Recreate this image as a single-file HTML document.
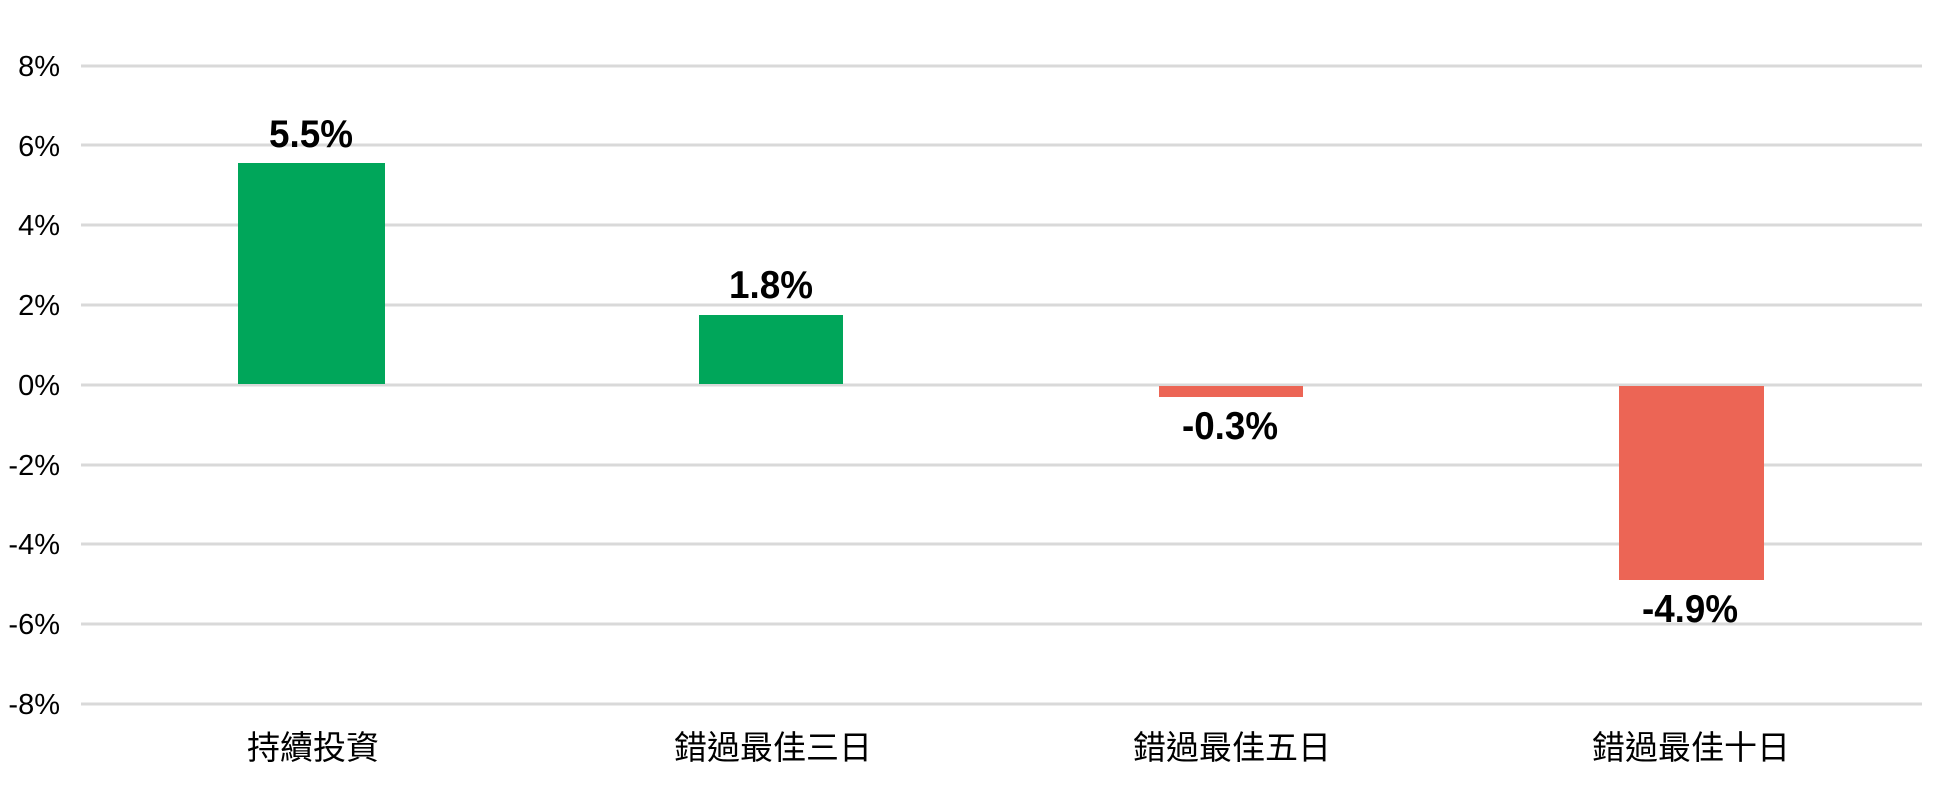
<!DOCTYPE html>
<html><head><meta charset="utf-8"><style>html,body{margin:0;padding:0;background:#fff}svg{display:block}</style></head>
<body>
<svg width="1938" height="788" viewBox="0 0 1938 788" xmlns="http://www.w3.org/2000/svg">
<g stroke="#d9d9d9" stroke-width="3">
<line x1="81" x2="1922" y1="66" y2="66"/><line x1="81" x2="1922" y1="145" y2="145"/>
<line x1="81" x2="1922" y1="225" y2="225"/><line x1="81" x2="1922" y1="305" y2="305"/>
<line x1="81" x2="1922" y1="385" y2="385"/><line x1="81" x2="1922" y1="465" y2="465"/>
<line x1="81" x2="1922" y1="544" y2="544"/><line x1="81" x2="1922" y1="624" y2="624"/>
<line x1="81" x2="1922" y1="704" y2="704"/>
</g>
<g font-family="'Liberation Sans', sans-serif" font-size="29" fill="#000" text-anchor="end">
<text x="60" y="76">8%</text><text x="60" y="156">6%</text><text x="60" y="235">4%</text>
<text x="60" y="315">2%</text><text x="60" y="395">0%</text><text x="60" y="475">-2%</text>
<text x="60" y="554">-4%</text><text x="60" y="634">-6%</text><text x="60" y="714">-8%</text>
</g>
<rect x="238" y="163" width="147" height="221" fill="#00a65a"/>
<rect x="699" y="315" width="144" height="69" fill="#00a65a"/>
<rect x="1159" y="386" width="144" height="11" fill="#ec6555"/>
<rect x="1619" y="386" width="145" height="194" fill="#ec6555"/>
<g font-family="'Liberation Sans Narrow','Liberation Sans', sans-serif" font-size="39" font-weight="bold" fill="#000" text-anchor="middle">
<text x="311" y="147" textLength="84" lengthAdjust="spacingAndGlyphs">5.5%</text>
<text x="771" y="298" textLength="84" lengthAdjust="spacingAndGlyphs">1.8%</text>
<text x="1230" y="439" textLength="96" lengthAdjust="spacingAndGlyphs">-0.3%</text>
<text x="1690" y="622" textLength="96" lengthAdjust="spacingAndGlyphs">-4.9%</text>
</g>
<g font-family="'Liberation Sans','Noto Sans CJK TC', sans-serif" font-size="33" fill="#000" text-anchor="middle">
<text x="313" y="759">持續投資</text>
<text x="773" y="759">錯過最佳三日</text>
<text x="1232" y="759">錯過最佳五日</text>
<text x="1691" y="759">錯過最佳十日</text>
</g>
</svg>
</body></html>
